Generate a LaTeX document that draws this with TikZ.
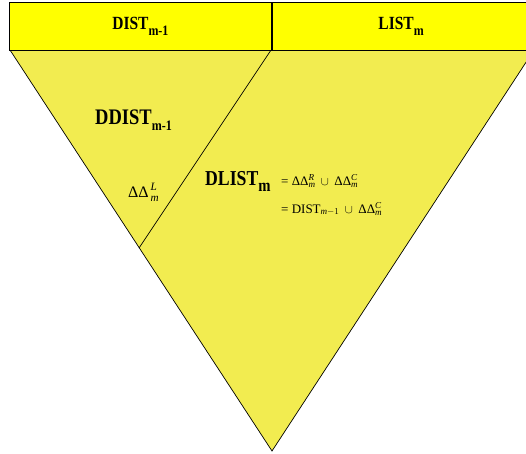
\documentclass[tikz,border=0pt]{standalone}
\usepackage{fontspec}
\setmainfont{Liberation Serif}
\usepackage{amsmath}
\definecolor{hdyellow}{RGB}{255,255,0}
\definecolor{trisand}{RGB}{242,236,80}
\tikzset{
    band/.style={
        draw=black, line width=0.7pt, fill=hdyellow,
        minimum height=48pt, anchor=north west, inner sep=0pt,
        font=\bfseries\fontsize{15.5}{18}\selectfont
    },
    wedge/.style={draw=black, line width=0.7pt, fill=trisand},
    heading/.style={
        inner sep=0pt, anchor=base west,
        font=\bfseries\fontsize{#1}{#1}\selectfont
    },
    formula/.style={
        inner sep=0pt, anchor=base west,
        font=\fontsize{#1}{#1}\selectfont
    },
    formula/.default=13
}
\newcommand\lowsub[2][0.75]{\raisebox{-0.3em}{\scalebox{#1}{#2}}}
\newcommand\tallbox[1]{\scalebox{1}[1.2]{#1}}

\begin{document}
\begin{tikzpicture}[x=1pt, y=-1pt]
    \useasboundingbox (0,0) rectangle (526,453);
    \clip (0,0) rectangle (526,453);
    % corners of the wedge
    \coordinate (tl) at (10,50);
    \coordinate (tr) at (534,50);
    \coordinate (apex) at (272,451);
    \coordinate (split) at (271,50);
    \coordinate (knee) at (139,248);
    \draw[wedge] (tl) -- (tr) -- (apex) -- cycle;
    \draw[line width=0.7pt] (split) -- (knee);
    % header cells
    \node[band, minimum width=262pt] (dist) at (9,2) {\tallbox{DIST\lowsub[0.77]{m-1}}};
    \node[band, minimum width=258pt] (list) at (dist.north east) {\tallbox{LIST\lowsub[0.77]{m}}};
    % labels inside the wedge
    \node[heading=18.5] (ddist) at (95,124) {\tallbox{DDIST\lowsub[0.65]{m-1}}};
    \node[formula=16] (dleft) at (128,197) {ΔΔ$^{\,\mathit{L}}_{\,\mathit{m}}$};
    \node[heading=17.7] (dlist) at (205,185) {\tallbox{DLIST\lowsub[0.83]{m}}};
    \node[formula] (eqone) at (281,185) {= ΔΔ$^{\mathit{R}}_{\mathit{m}}$\, $\cup$\, ΔΔ$^{\mathit{C}}_{\mathit{m}}$};
    \node[formula] (eqtwo) at (281,213) {= DIST$_{\mathit{m}-1}$\, $\cup$\, ΔΔ$^{\mathit{C}}_{\mathit{m}}$};
\end{tikzpicture}
\end{document}
